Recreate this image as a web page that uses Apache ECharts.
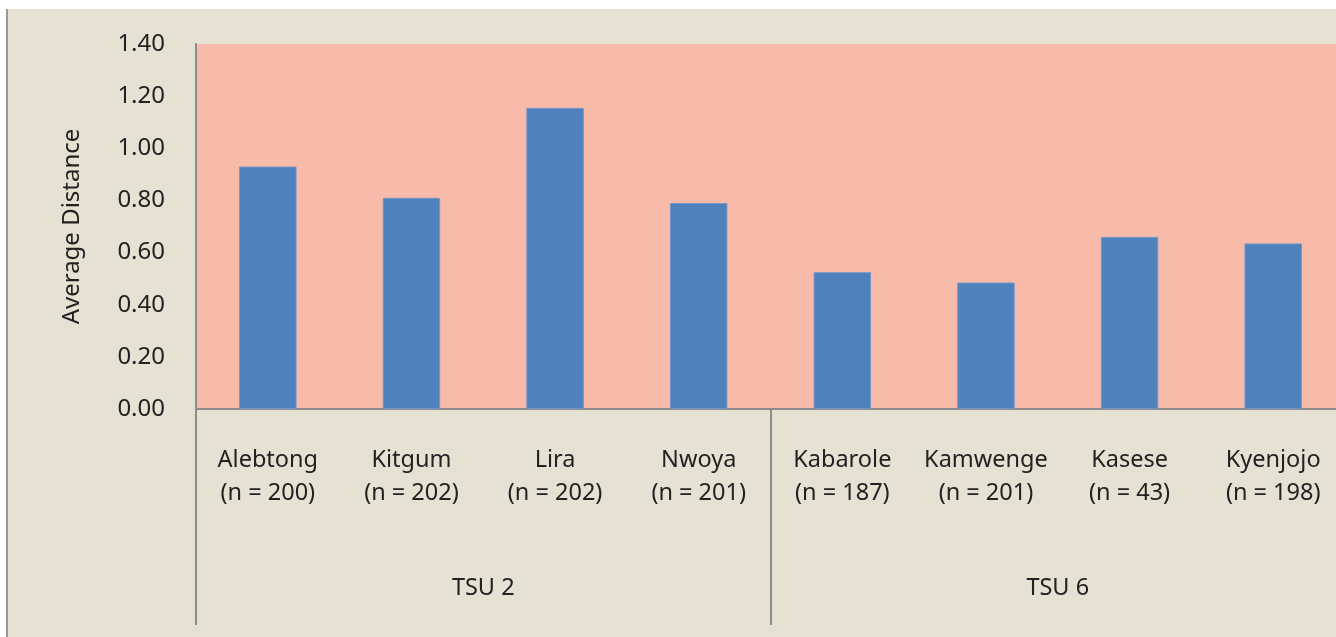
<!DOCTYPE html>
<html>
<head>
<meta charset="utf-8">
<script src="https://cdn.jsdelivr.net/npm/echarts@6/dist/echarts.min.js"></script>
<style>
  html, body { margin: 0; padding: 0; background: #ffffff; width: 1336px; height: 637px; overflow: hidden; }
  #frame { position: absolute; left: 6px; top: 9px; width: 1330px; height: 628px; border-left: 2px solid #9a9a9a; box-sizing: border-box; background: #E5E2D3; overflow: hidden; }
  #chart { width: 1345px; height: 628px; }
</style>
</head>
<body>
<div id="frame"><div id="chart"></div></div>
<script>
const districts = ['Alebtong', 'Kitgum', 'Lira', 'Nwoya', 'Kabarole', 'Kamwenge', 'Kasese', 'Kyenjojo'];
const sampleSizes = [200, 202, 202, 201, 187, 201, 43, 198];
const groups = ['TSU 2', 'TSU 6'];
const averageDistance = [0.93, 0.81, 1.155, 0.79, 0.525, 0.485, 0.66, 0.635];
const yTicks = { min: 0, max: 1.4, interval: 0.2 };

const categoryLabels = districts.map((d, i) => d + '\n(n = ' + sampleSizes[i] + ')');
const font = 'Noto Sans';
const textColor = '#222222';
const axisGray = '#8c8c8c';

const chart = echarts.init(document.getElementById('chart'));
chart.setOption({
  backgroundColor: '#E5E2D3',
  animation: false,
  grid: {
    left: 188, top: 35, width: 1149, height: 365,
    show: true, backgroundColor: '#F8BAA9', borderWidth: 0
  },
  xAxis: [
    {
      type: 'category',
      data: categoryLabels,
      position: 'bottom',
      axisLine: { show: true, lineStyle: { color: axisGray, width: 2 } },
      axisTick: { show: false },
      axisLabel: {
        interval: 0, margin: 35, color: textColor,
        fontFamily: font, fontSize: 23.5, lineHeight: 33
      }
    },
    {
      type: 'category',
      data: groups,
      position: 'bottom',
      axisLine: { show: false },
      axisTick: { show: true, length: 216, interval: 0, lineStyle: { color: axisGray, width: 2 } },
      axisLabel: {
        interval: 0, margin: 163, color: textColor,
        fontFamily: font, fontSize: 23.5, lineHeight: 33
      }
    }
  ],
  yAxis: {
    type: 'value',
    min: yTicks.min, max: yTicks.max, interval: yTicks.interval,
    name: 'Average Distance',
    nameLocation: 'middle',
    nameGap: 112,
    nameRotate: 90,
    nameTextStyle: { color: textColor, fontFamily: font, fontSize: 24 },
    axisLine: { show: true, lineStyle: { color: axisGray, width: 2 } },
    axisTick: { show: false },
    splitLine: { show: false },
    axisLabel: {
      margin: 31, color: textColor, fontFamily: font, fontSize: 24,
      formatter: v => v.toFixed(2)
    }
  },
  series: [{
    type: 'bar',
    data: averageDistance,
    barWidth: '40%',
    itemStyle: { color: '#4F81BD', borderColor: '#7397c8', borderWidth: 1 }
  }]
});
</script>
</body>
</html>
